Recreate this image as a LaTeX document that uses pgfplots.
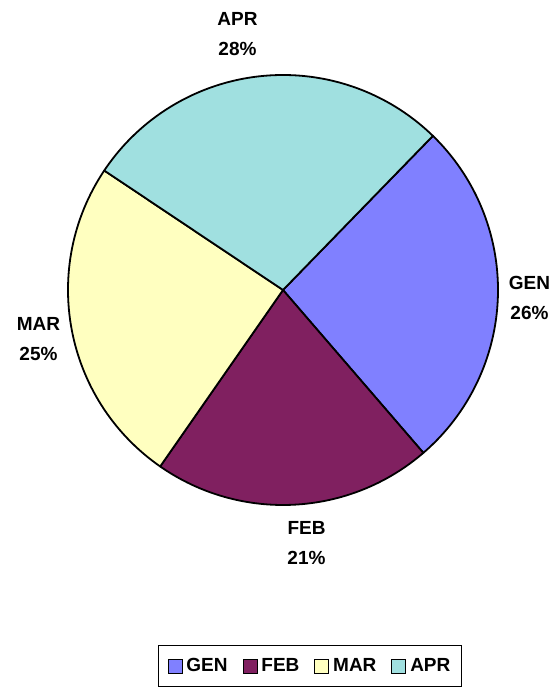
\documentclass[border=0pt]{standalone}
\usepackage{fontspec}
\setmainfont{Liberation Sans}
\usepackage{pgfplots}
\usepackage{pgfplotstable}
\pgfplotsset{compat=1.18}

\definecolor{cgen}{RGB}{128,128,255}
\definecolor{cfeb}{RGB}{128,32,96}
\definecolor{cmar}{RGB}{255,255,192}
\definecolor{capr}{RGB}{160,224,224}

% share of each month (percent), shown rounded, label position in px
\pgfplotstableread{
name val  pct col  lx    ly
GEN  26.4 26  cgen 529.5 392
FEB  21.0 21  cfeb 306.5 146.7
MAR  24.7 25  cmar 38.5  351.3
APR  27.9 28  capr 237.5 656
}\piedata

\tikzset{plab/.style={align=center,font=\fontsize{19}{30}\selectfont\bfseries}}

\begin{document}
\begin{tikzpicture}
\begin{axis}[hide axis, scale only axis, width=559pt, height=690pt,
  xmin=0, xmax=559, ymin=0, ymax=690, clip=false,
  legend style={at={(axis cs:310,24)}, anchor=center, draw=black, line width=1.5pt,
    font=\fontsize{19}{22}\selectfont\bfseries, legend columns=4,
    inner xsep=9pt, inner ysep=11pt,
    /tikz/every odd column/.append style={column sep=2pt},
    /tikz/every even column/.append style={column sep=13pt}},
  legend image code/.code={\draw[#1,line width=0.8pt] (0pt,-7pt) rectangle (14pt,7pt);},
]
\path (axis cs:0,0) rectangle (axis cs:559,690);
\addlegendimage{fill=cgen,draw=black}\addlegendentry{GEN}
\addlegendimage{fill=cfeb,draw=black}\addlegendentry{FEB}
\addlegendimage{fill=cmar,draw=black}\addlegendentry{MAR}
\addlegendimage{fill=capr,draw=black}\addlegendentry{APR}

\pgfplotstablegetrowsof{\piedata}
\pgfmathtruncatemacro{\nrows}{\pgfplotsretval-1}
\def\angA{45.8}
\pgfplotsforeachungrouped \i in {0,...,\nrows}{%
  \pgfplotstablegetelem{\i}{val}\of\piedata \let\pv\pgfplotsretval
  \pgfplotstablegetelem{\i}{col}\of\piedata \let\pc\pgfplotsretval
  \pgfplotstablegetelem{\i}{name}\of\piedata \let\pn\pgfplotsretval
  \pgfplotstablegetelem{\i}{pct}\of\piedata \let\pp\pgfplotsretval
  \pgfplotstablegetelem{\i}{lx}\of\piedata \let\plx\pgfplotsretval
  \pgfplotstablegetelem{\i}{ly}\of\piedata \let\ply\pgfplotsretval
  \pgfmathsetmacro{\angB}{\angA-3.6*\pv}
  \edef\temp{\noexpand\filldraw[fill=\pc, draw=black, line width=1.8pt, line join=round]
    (axis cs:283,400) -- ++(\angA:215pt) arc[start angle=\angA, end angle=\angB, radius=215pt] -- cycle;
    \noexpand\node[plab] at (axis cs:\plx,\ply) {\pn\noexpand\\\pp\noexpand\%};}
  \temp
  \let\angA\angB
}
\end{axis}
\end{tikzpicture}
\end{document}
